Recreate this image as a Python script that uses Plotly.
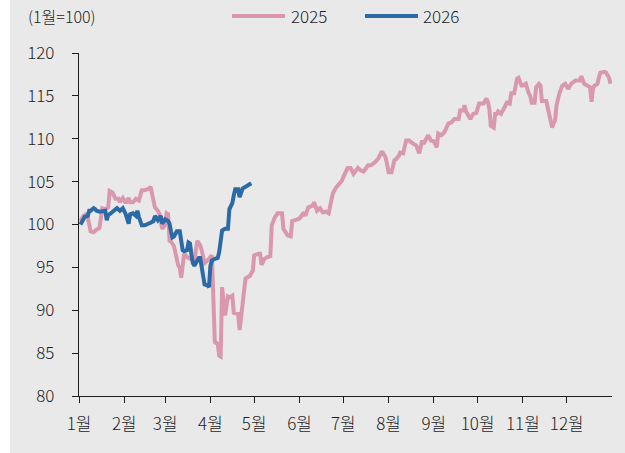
import pandas as pd
import plotly.graph_objects as go

# Index level, 1월 = 100
dates_2025 = [
    "2025-01-02", "2025-01-04", "2025-01-06", "2025-01-07", "2025-01-09", "2025-01-11", "2025-01-13", "2025-01-15",
    "2025-01-17", "2025-01-19", "2025-01-21", "2025-01-22", "2025-01-24", "2025-01-26", "2025-01-28", "2025-01-29",
    "2025-01-31", "2025-02-02", "2025-02-04", "2025-02-05", "2025-02-07", "2025-02-09", "2025-02-11", "2025-02-13",
    "2025-02-15", "2025-02-18", "2025-02-19", "2025-02-21", "2025-02-22", "2025-02-24", "2025-02-25", "2025-02-27",
    "2025-03-01", "2025-03-02", "2025-03-03", "2025-03-04", "2025-03-05", "2025-03-07", "2025-03-10", "2025-03-11",
    "2025-03-12", "2025-03-14", "2025-03-16", "2025-03-18", "2025-03-20", "2025-03-21", "2025-03-23", "2025-03-25",
    "2025-03-26", "2025-03-28", "2025-03-30", "2025-04-01", "2025-04-02", "2025-04-03", "2025-04-04", "2025-04-06",
    "2025-04-07", "2025-04-08", "2025-04-09", "2025-04-11", "2025-04-13", "2025-04-14", "2025-04-16", "2025-04-17",
    "2025-04-18", "2025-04-20", "2025-04-21", "2025-04-23", "2025-04-25", "2025-04-27", "2025-04-28", "2025-04-30",
    "2025-05-01", "2025-05-04", "2025-05-05", "2025-05-06", "2025-05-08", "2025-05-10", "2025-05-12", "2025-05-13",
    "2025-05-15", "2025-05-17", "2025-05-20", "2025-05-21", "2025-05-24", "2025-05-26", "2025-05-27", "2025-05-29",
    "2025-05-30", "2025-06-01", "2025-06-04", "2025-06-05", "2025-06-07", "2025-06-10", "2025-06-11", "2025-06-13",
    "2025-06-15", "2025-06-17", "2025-06-19", "2025-06-21", "2025-06-23", "2025-06-24", "2025-06-26", "2025-06-28",
    "2025-06-30", "2025-07-02", "2025-07-04", "2025-07-06", "2025-07-08", "2025-07-11", "2025-07-13", "2025-07-15",
    "2025-07-18", "2025-07-20", "2025-07-22", "2025-07-23", "2025-07-25", "2025-07-27", "2025-07-28", "2025-07-30",
    "2025-07-31", "2025-08-01", "2025-08-03", "2025-08-05", "2025-08-06", "2025-08-08", "2025-08-09", "2025-08-11",
    "2025-08-13", "2025-08-15", "2025-08-18", "2025-08-20", "2025-08-22", "2025-08-24", "2025-08-25", "2025-08-28",
    "2025-08-30", "2025-09-01", "2025-09-03", "2025-09-04", "2025-09-06", "2025-09-08", "2025-09-11", "2025-09-13",
    "2025-09-15", "2025-09-18", "2025-09-19", "2025-09-21", "2025-09-22", "2025-09-23", "2025-09-25", "2025-09-26",
    "2025-09-28", "2025-09-30", "2025-10-02", "2025-10-05", "2025-10-07", "2025-10-08", "2025-10-09", "2025-10-10",
    "2025-10-12", "2025-10-13", "2025-10-14", "2025-10-15", "2025-10-17", "2025-10-19", "2025-10-21", "2025-10-23",
    "2025-10-24", "2025-10-26", "2025-10-28", "2025-10-29", "2025-10-30", "2025-10-31", "2025-11-01", "2025-11-03",
    "2025-11-05", "2025-11-06", "2025-11-07", "2025-11-09", "2025-11-10", "2025-11-12", "2025-11-13", "2025-11-14",
    "2025-11-17", "2025-11-19", "2025-11-20", "2025-11-21", "2025-11-22", "2025-11-23", "2025-11-24", "2025-11-26",
    "2025-11-28", "2025-11-30", "2025-12-02", "2025-12-04", "2025-12-07", "2025-12-10", "2025-12-11", "2025-12-13",
    "2025-12-15", "2025-12-17", "2025-12-18", "2025-12-19", "2025-12-20", "2025-12-22", "2025-12-23", "2025-12-24",
    "2025-12-27", "2025-12-28", "2025-12-30", "2025-12-31",
]
values_2025 = [
    100.4, 101.0, 101.2, 100.8, 99.2, 99.1, 99.4, 99.6,
    101.9, 101.8, 102.0, 103.9, 103.7, 103.0, 103.0, 102.6,
    103.1, 102.5, 103.1, 102.6, 102.6, 103.0, 102.8, 104.0,
    104.0, 104.2, 104.4, 102.6, 102.0, 101.6, 101.3, 99.5,
    100.0, 101.3, 101.2, 98.1, 98.0, 97.5, 95.2, 95.0,
    93.8, 96.6, 96.2, 96.0, 95.8, 95.8, 98.1, 97.6,
    97.0, 95.5, 95.8, 96.2, 96.4, 91.5, 86.3, 86.1,
    84.7, 84.6, 92.7, 89.4, 91.6, 91.5, 91.7, 89.7,
    89.7, 89.6, 87.7, 91.2, 93.7, 93.9, 94.0, 94.6,
    96.4, 96.6, 96.6, 95.3, 96.0, 96.2, 96.3, 99.9,
    100.8, 101.3, 101.3, 99.5, 98.7, 98.6, 100.4, 100.5,
    100.6, 100.7, 101.4, 101.0, 102.0, 102.2, 102.6, 101.6,
    101.9, 101.4, 101.5, 101.3, 103.0, 103.7, 104.3, 104.8,
    105.1, 105.9, 106.6, 106.6, 105.9, 106.6, 106.3, 106.2,
    106.9, 106.9, 107.1, 107.3, 107.7, 108.4, 108.4, 107.8,
    107.0, 106.1, 106.1, 107.5, 107.6, 108.0, 108.4, 108.3,
    109.8, 109.8, 109.4, 109.2, 108.3, 109.8, 109.4, 110.4,
    109.8, 109.7, 109.0, 110.6, 110.4, 110.7, 111.8, 111.9,
    112.3, 112.3, 113.3, 113.3, 113.9, 113.2, 112.6, 112.3,
    112.9, 113.0, 114.1, 114.1, 114.7, 114.3, 113.5, 111.5,
    111.3, 112.9, 112.9, 113.2, 112.9, 113.6, 114.2, 114.1,
    115.3, 115.3, 117.0, 117.1, 116.6, 116.2, 116.2, 116.4,
    115.3, 115.0, 114.2, 114.2, 116.0, 116.4, 116.2, 114.4,
    114.4, 113.0, 112.3, 111.3, 111.8, 112.1, 113.9, 115.3,
    116.2, 116.4, 115.8, 116.4, 116.8, 116.8, 117.3, 116.4,
    116.2, 116.0, 114.3, 115.9, 116.2, 116.4, 117.1, 117.7,
    117.8, 117.7, 117.1, 116.4,
]

dates_2026 = [
    "2026-01-02", "2026-01-03", "2026-01-04", "2026-01-05", "2026-01-07", "2026-01-08", "2026-01-09", "2026-01-11",
    "2026-01-12", "2026-01-13", "2026-01-15", "2026-01-17", "2026-01-19", "2026-01-20", "2026-01-21", "2026-01-22",
    "2026-01-24", "2026-01-26", "2026-01-27", "2026-01-29", "2026-01-31", "2026-02-02", "2026-02-03", "2026-02-04",
    "2026-02-05", "2026-02-07", "2026-02-09", "2026-02-10", "2026-02-11", "2026-02-12", "2026-02-13", "2026-02-15",
    "2026-02-17", "2026-02-19", "2026-02-21", "2026-02-22", "2026-02-24", "2026-02-26", "2026-02-27", "2026-02-28",
    "2026-03-01", "2026-03-03", "2026-03-04", "2026-03-05", "2026-03-06", "2026-03-07", "2026-03-09", "2026-03-11",
    "2026-03-12", "2026-03-13", "2026-03-14", "2026-03-16", "2026-03-17", "2026-03-18", "2026-03-19", "2026-03-20",
    "2026-03-21", "2026-03-23", "2026-03-24", "2026-03-25", "2026-03-26", "2026-03-27", "2026-03-28", "2026-03-30",
    "2026-03-31", "2026-04-01", "2026-04-02", "2026-04-04", "2026-04-06", "2026-04-07", "2026-04-09", "2026-04-11",
    "2026-04-13", "2026-04-14", "2026-04-16", "2026-04-17", "2026-04-18", "2026-04-20", "2026-04-21", "2026-04-23",
    "2026-04-24", "2026-04-25", "2026-04-27", "2026-04-29",
]
values_2026 = [
    100.0, 100.3, 100.8, 100.9, 101.0, 101.6, 101.6, 101.9,
    101.8, 101.6, 101.5, 101.6, 101.6, 100.5, 101.1, 101.2,
    101.5, 101.7, 101.9, 101.6, 101.9, 101.2, 100.4, 100.1,
    101.2, 101.3, 101.0, 101.6, 100.9, 100.2, 99.9, 99.9,
    100.0, 100.2, 100.4, 101.0, 100.5, 101.0, 100.1, 100.4,
    100.6, 100.4, 100.1, 99.2, 98.5, 98.6, 99.2, 99.2,
    98.3, 97.0, 96.9, 97.0, 97.9, 97.8, 96.5, 95.5,
    95.2, 95.9, 96.1, 96.1, 95.0, 93.4, 93.0, 92.9,
    92.7, 95.2, 95.8, 96.0, 96.1, 96.8, 99.3, 99.5,
    99.5, 101.8, 102.5, 103.4, 104.1, 104.1, 103.2, 104.2,
    104.3, 104.5, 104.7, 104.8,
]

month_starts = pd.date_range("2025-01-01", periods=12, freq="MS")
month_labels = ["1월", "2월", "3월", "4월", "5월", "6월", "7월", "8월", "9월", "10월", "11월", "12월"]
y_ticks = [80, 85, 90, 95, 100, 105, 110, 115, 120]

PINK = "#d998ae"
BLUE = "#2b6aa6"
BG = "#e9e9e9"
INK = "#1e1e1e"
FONT = "Noto Sans CJK KR"

# 2026 is drawn on the same calendar as 2025 for a month-by-month comparison
x_2025 = pd.to_datetime(dates_2025)
x_2026 = pd.to_datetime(dates_2026) - pd.DateOffset(years=1)

fig = go.Figure()
fig.add_trace(go.Scatter(x=x_2025, y=values_2025, mode="lines", name="2025",
                         line=dict(color=PINK, width=4)))
fig.add_trace(go.Scatter(x=x_2026, y=values_2026, mode="lines", name="2026",
                         line=dict(color=BLUE, width=4)))

W, H = 625, 453
L, R, T, B = 79, 13, 53, 57
pw, ph = W - L - R, H - T - B


def px_x(px):
    return (px - L) / pw


def px_y(py):
    return (H - B - py) / ph


shapes = [
    # white strip along the left edge
    dict(type="rect", xref="paper", yref="paper", x0=px_x(-5), x1=px_x(10),
         y0=px_y(H + 5), y1=px_y(-5), fillcolor="white", line_width=0, layer="below"),
    # legend samples
    dict(type="line", xref="paper", yref="paper", x0=px_x(232), x1=px_x(285),
         y0=px_y(16), y1=px_y(16), line=dict(color=PINK, width=4)),
    dict(type="line", xref="paper", yref="paper", x0=px_x(365), x1=px_x(418),
         y0=px_y(16), y1=px_y(16), line=dict(color=BLUE, width=4)),
]

TXT = dict(family=FONT, size=16, color=INK, weight=300)

annotations = [
    dict(text="(1월=100)", xref="paper", yref="paper", x=px_x(26), y=px_y(16),
         xanchor="left", yanchor="middle", showarrow=False, font=dict(TXT, size=16)),
    dict(text="2025", xref="paper", yref="paper", x=px_x(289), y=px_y(16),
         xanchor="left", yanchor="middle", showarrow=False, font=dict(TXT, size=17)),
    dict(text="2026", xref="paper", yref="paper", x=px_x(421), y=px_y(16),
         xanchor="left", yanchor="middle", showarrow=False, font=dict(TXT, size=17)),
]

fig.update_layout(
    width=W, height=H,
    margin=dict(l=L, r=R, t=T, b=B, pad=0),
    paper_bgcolor=BG, plot_bgcolor=BG,
    font=TXT,
    showlegend=False,
    shapes=shapes,
    annotations=annotations,
)
fig.update_xaxes(
    type="date", range=["2025-01-01", "2026-01-01"],
    tickvals=month_starts, ticktext=month_labels,
    ticks="outside", ticklen=6, tickwidth=1.3, tickcolor=INK,
    showline=True, linecolor=INK, linewidth=1.3,
    showgrid=False, zeroline=False,
    tickfont=dict(TXT, size=17), ticklabelposition="outside", ticklabelstandoff=6,
)
fig.update_yaxes(
    range=[80, 120], tickvals=y_ticks,
    ticks="outside", ticklen=6, tickwidth=1.3, tickcolor=INK,
    showline=True, linecolor=INK, linewidth=1.3,
    showgrid=False, zeroline=False,
    tickfont=dict(TXT, size=17), ticklabelposition="outside", ticklabelstandoff=14,
)

fig.write_html("out.html")
